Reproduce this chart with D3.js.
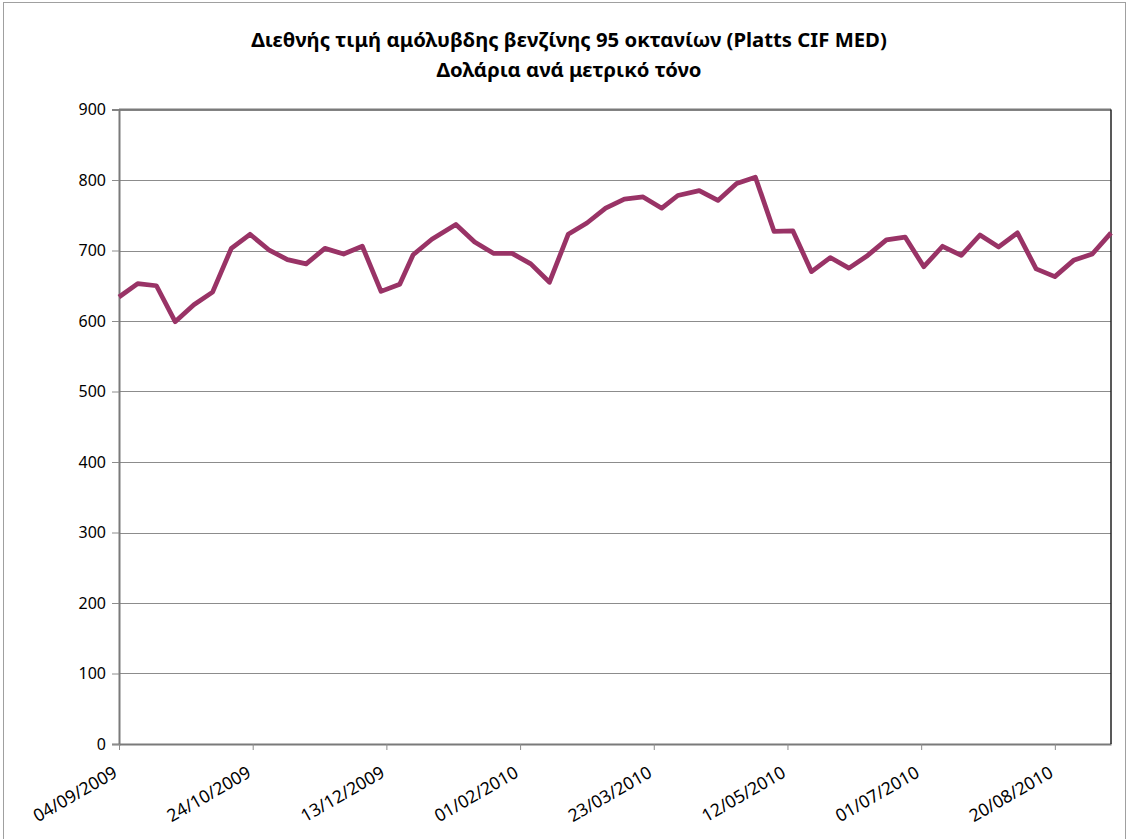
<!DOCTYPE html>
<html lang="el">
<head>
  <meta charset="UTF-8">
  <title>Διεθνής τιμή αμόλυβδης βενζίνης 95 οκτανίων</title>
  <script src="https://d3js.org/d3.v7.min.js"></script>
  <style>
    body {
      margin: 0;
      background: #fff;
    }
    svg { display: block; }
  </style>
</head>
<body>
  <svg width="1128" height="839"></svg>

  <script>
    // weekly prices, USD per metric ton
    const dates = [
      "04/09/2009", "11/09/2009", "18/09/2009", "25/09/2009", "02/10/2009", "09/10/2009",
      "16/10/2009", "23/10/2009", "30/10/2009", "06/11/2009", "13/11/2009", "20/11/2009",
      "27/11/2009", "04/12/2009", "11/12/2009", "18/12/2009", "23/12/2009", "30/12/2009",
      "08/01/2010", "15/01/2010", "22/01/2010", "29/01/2010", "05/02/2010", "12/02/2010",
      "19/02/2010", "26/02/2010", "05/03/2010", "12/03/2010", "19/03/2010", "26/03/2010",
      "01/04/2010", "09/04/2010", "16/04/2010", "23/04/2010", "30/04/2010", "07/05/2010",
      "14/05/2010", "21/05/2010", "28/05/2010", "04/06/2010", "11/06/2010", "18/06/2010",
      "25/06/2010", "02/07/2010", "09/07/2010", "16/07/2010", "23/07/2010", "30/07/2010",
      "06/08/2010", "13/08/2010", "20/08/2010", "27/08/2010", "03/09/2010", "10/09/2010"
    ];
    const prices = [
      634, 653, 650, 599, 623, 641,
      703, 723, 701, 687, 681, 703,
      695, 706, 642, 652, 694, 716,
      737, 712, 696, 696, 681, 655,
      723, 739, 760, 773, 776, 760,
      778, 785, 771, 795, 804, 727,
      728, 670, 690, 675, 693, 715,
      719, 677, 706, 693, 722, 705,
      725, 674, 663, 686, 695, 725
    ];
    const xTickLabels = ["04/09/2009", "24/10/2009", "13/12/2009", "01/02/2010",
                         "23/03/2010", "12/05/2010", "01/07/2010", "20/08/2010"];
    const yTicks = [0, 100, 200, 300, 400, 500, 600, 700, 800, 900];
    const titleLines = ["Διεθνής τιμή αμόλυβδης βενζίνης 95 οκτανίων (Platts CIF MED)",
                        "Δολάρια ανά μετρικό τόνο"];

    const font = '"Noto Sans", "Open Sans", sans-serif';

    const svg = d3.select("svg"),
          width = 1128,
          height = 839,
          margin = {top: 109.5, right: 17, bottom: 95, left: 119};

    const parse = d3.utcParse("%d/%m/%Y");
    const data = dates.map((d, i) => ({date: parse(d), value: prices[i]}));

    const x = d3.scaleUtc()
      .domain(d3.extent(data, d => d.date))
      .range([margin.left, width - margin.right]);
    const y = d3.scaleLinear()
      .domain([0, 900])
      .range([height - margin.bottom, margin.top]);

    // chart border
    svg.append("rect")
      .attr("x", 3.5).attr("y", 2.5)
      .attr("width", width - 6).attr("height", height)
      .attr("fill", "none").attr("stroke", "#a0a0a0");

    // title
    svg.append("g").selectAll("text")
      .data(titleLines)
      .join("text")
      .attr("x", 569)
      .attr("y", (d, i) => 47 + i * 30)
      .attr("text-anchor", "middle")
      .style("font-family", font)
      .style("font-weight", "bold")
      .style("font-size", "20.3px")
      .text(d => d);

    // gridlines
    svg.append("g")
      .selectAll("line")
      .data(yTicks)
      .join("line")
      .attr("x1", margin.left).attr("x2", width - margin.right)
      .attr("y1", d => Math.round(y(d)) + 0.5).attr("y2", d => Math.round(y(d)) + 0.5)
      .attr("stroke", "#8c8c8c");

    // y axis
    const yAxis = svg.append("g")
      .attr("transform", `translate(${margin.left},0)`)
      .call(d3.axisLeft(y).tickValues(yTicks).tickSize(7).tickPadding(6));
    yAxis.select(".domain").attr("stroke", "#7a7a7a").attr("stroke-width", 2);
    yAxis.selectAll(".tick line").attr("stroke", "#8c8c8c");
    yAxis.selectAll(".tick text")
      .style("font-family", font)
      .style("font-size", "16px")
      .attr("fill", "#000");

    // x axis
    const xAxis = svg.append("g")
      .attr("transform", `translate(0,${height - margin.bottom})`)
      .call(d3.axisBottom(x)
        .tickValues(xTickLabels.map(parse))
        .tickFormat(d3.utcFormat("%d/%m/%Y"))
        .tickSize(6)
        .tickSizeOuter(0));
    xAxis.select(".domain").attr("stroke", "#7a7a7a").attr("stroke-width", 2);
    xAxis.selectAll(".tick line").attr("stroke", "#8c8c8c");
    xAxis.selectAll(".tick text")
      .style("font-family", font)
      .style("font-size", "17.5px")
      .attr("fill", "#000")
      .attr("text-anchor", "end")
      .attr("dy", null)
      .attr("y", null)
      .attr("transform", "translate(-1,32) rotate(-30)");

    // plot area top and right border
    svg.append("line")
      .attr("x1", margin.left).attr("x2", width - margin.right)
      .attr("y1", margin.top).attr("y2", margin.top)
      .attr("stroke", "#7a7a7a").attr("stroke-width", 2);
    svg.append("line")
      .attr("x1", width - margin.right).attr("x2", width - margin.right)
      .attr("y1", margin.top).attr("y2", height - margin.bottom)
      .attr("stroke", "#222").attr("stroke-width", 1.5);

    // price line
    const line = d3.line()
      .x(d => x(d.date))
      .y(d => y(d.value));

    svg.append("path")
      .datum(data)
      .attr("fill", "none")
      .attr("stroke", "#993366")
      .attr("stroke-width", 4.75)
      .attr("stroke-linejoin", "round")
      .attr("d", line);
  </script>
</body>
</html>
